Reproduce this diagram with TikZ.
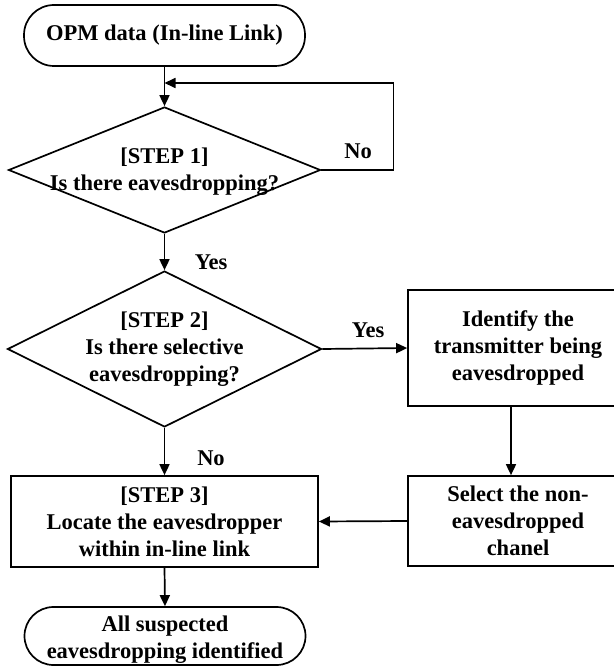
\documentclass[tikz,border=0pt]{standalone}
\usepackage{fontspec}
\setmainfont{Liberation Serif}
\usetikzlibrary{arrows.meta,shapes.geometric}
\begin{document}
\begin{tikzpicture}[x=1pt,y=-1pt,
  every node/.style={font=\bfseries\fontsize{22.5}{27}\selectfont, align=center, inner sep=0pt},
  ln/.style={line width=1.7pt},
  arr/.style={ln, -{Triangle[length=11pt,width=10pt]}},
  boxnode/.style={draw, ln, rectangle},
  termnode/.style={draw, ln, rectangle, rounded corners=#1},
  decnode/.style={draw, ln, diamond}]
\useasboundingbox (0,0) rectangle (613,666);

\node[termnode=30pt, minimum width=281pt, minimum height=61pt] (t1) at (164.5,35.5) {OPM data (In-line Link)};

\node[decnode, minimum width=312pt, minimum height=126pt] (d1) at (164.5,170) {};
\node (d1t) at (164.5,172) {[STEP 1]\\Is there eavesdropping?};

\node[decnode, minimum width=314pt, minimum height=156pt] (d2) at (164.5,349) {};
\node (d2t) at (164.5,349) {[STEP 2]\\Is there selective\\eavesdropping?};

\node[boxnode, minimum width=220pt, minimum height=116pt] (idb) at (518,348) {Identify the\\transmitter being\\eavesdropped};
\node[boxnode, minimum width=220pt, minimum height=90pt] (sel) at (518,521) {Select the non-\\eavesdropped\\chanel};
\node[boxnode, minimum width=307pt, minimum height=91pt] (s3) at (164.5,521.5) {[STEP 3]\\Locate the eavesdropper\\within in-line link};
\node[termnode=29pt, minimum width=281pt, minimum height=58pt] (t2) at (165,636) {};
\node (t2t) at (165,639.5) {All suspected\\eavesdropping identified};

\coordinate (j) at (164.5,83);
\draw[arr] (t1.south) -- (d1.north);
\draw[arr] (d1.east) -- ++(72,0) |- (j);
\draw[arr] (d1.south) -- (d2.north);
\draw[arr] (d2.east) -- (idb.west);
\draw[arr] ([xshift=-7pt]idb.south) -- ([xshift=-7pt]sel.north);
\draw[arr] (sel.west) -- (s3.east);
\draw[arr] (d2.south) -- (s3.north);
\draw[arr] (s3.south) -- (t2.north);

\node (lno1) at (358,151) {No};
\node (lyes1) at (211,262) {Yes};
\node (lyes2) at (368,330) {Yes};
\node (lno2) at (211,458) {No};
\end{tikzpicture}
\end{document}
